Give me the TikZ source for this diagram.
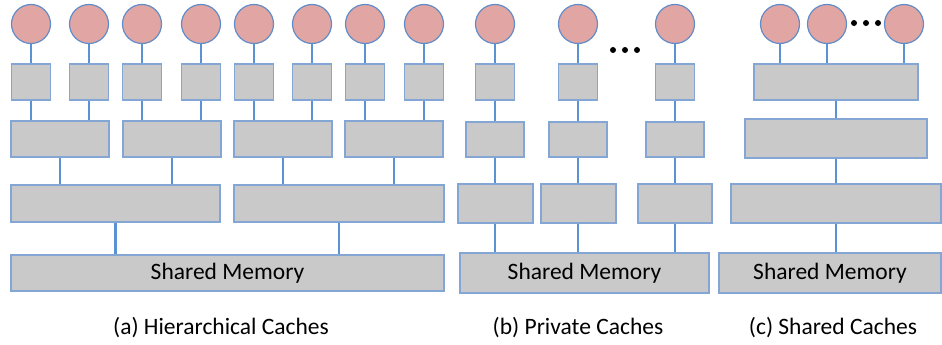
\documentclass[tikz,border=0pt]{standalone}
\usepackage{fontspec}
\setmainfont{Carlito}
\definecolor{corepink}{RGB}{225, 165, 164}
\definecolor{coreblue}{RGB}{98, 140, 200}
\definecolor{cachegray}{RGB}{201, 201, 201}
\definecolor{cacheedge}{RGB}{132, 166, 212}
\definecolor{linkblue}{RGB}{91, 146, 212}
\usetikzlibrary{positioning, calc}
\tikzset{
	core/.style={circle, draw=coreblue, fill=corepink, line width=1.2pt, minimum size=39pt, inner sep=0pt},
	cache/.style={rectangle, draw=cacheedge, fill=cachegray, line width=1.3pt, inner sep=0pt, font=\fontsize{23.5}{28}\selectfont},
	caption/.style={font=\fontsize{23.5}{28}\selectfont, inner sep=0pt},
	link/.style={draw=linkblue, line width=2.5pt},
}
\begin{document}
\begin{tikzpicture}[x=1pt, y=-1pt]
		\useasboundingbox (0,0) rectangle (942,345);
		% (a) hierarchical
		\node[core] (ca1) at (31,24) {};
		\node[core] (ca2) at (89,24) {};
		\node[core] (ca3) at (142,24) {};
		\node[core] (ca4) at (201,24) {};
		\node[core] (ca5) at (254,24) {};
		\node[core] (ca6) at (312,24) {};
		\node[core] (ca7) at (365,24) {};
		\node[core] (ca8) at (424,24) {};
		\node[cache, minimum width=39pt, minimum height=36pt] (l1a1) at (31,82) {};
		\node[cache, minimum width=39pt, minimum height=36pt] (l1a2) at (89,82) {};
		\node[cache, minimum width=39pt, minimum height=36pt] (l1a3) at (142,82) {};
		\node[cache, minimum width=39pt, minimum height=36pt] (l1a4) at (201,82) {};
		\node[cache, minimum width=39pt, minimum height=36pt] (l1a5) at (254,82) {};
		\node[cache, minimum width=39pt, minimum height=36pt] (l1a6) at (312,82) {};
		\node[cache, minimum width=39pt, minimum height=36pt] (l1a7) at (365,82) {};
		\node[cache, minimum width=39pt, minimum height=36pt] (l1a8) at (424,82) {};
		\node[cache, minimum width=98pt, minimum height=36pt] (l2a1) at (60,139) {};
		\node[cache, minimum width=98pt, minimum height=36pt] (l2a2) at (172,139) {};
		\node[cache, minimum width=98pt, minimum height=36pt] (l2a3) at (283,139) {};
		\node[cache, minimum width=98pt, minimum height=36pt] (l2a4) at (394,139) {};
		\node[cache, minimum width=209pt, minimum height=37pt] (l3a1) at (115.5,203.5) {};
		\node[cache, minimum width=210pt, minimum height=37pt] (l3a2) at (339,203.5) {};
		\node[cache, minimum width=433pt, minimum height=36pt] (mema) at (227.5,273) {Shared Memory};
		\node[caption] (capa) at (221,328) {(a) Hierarchical Caches};
		\draw[link] (ca1) -- (l1a1); \draw[link] (ca2) -- (l1a2);
		\draw[link] (ca3) -- (l1a3); \draw[link] (ca4) -- (l1a4);
		\draw[link] (ca5) -- (l1a5); \draw[link] (ca6) -- (l1a6);
		\draw[link] (ca7) -- (l1a7); \draw[link] (ca8) -- (l1a8);
		\draw[link] (l1a1.south) -- (l1a1.south |- l2a1.north);
		\draw[link] (l1a2.south) -- (l1a2.south |- l2a1.north);
		\draw[link] (l1a3.south) -- (l1a3.south |- l2a2.north);
		\draw[link] (l1a4.south) -- (l1a4.south |- l2a2.north);
		\draw[link] (l1a5.south) -- (l1a5.south |- l2a3.north);
		\draw[link] (l1a6.south) -- (l1a6.south |- l2a3.north);
		\draw[link] (l1a7.south) -- (l1a7.south |- l2a4.north);
		\draw[link] (l1a8.south) -- (l1a8.south |- l2a4.north);
		\draw[link] (l2a1.south) -- (l2a1.south |- l3a1.north);
		\draw[link] (l2a2.south) -- (l2a2.south |- l3a1.north);
		\draw[link] (l2a3.south) -- (l2a3.south |- l3a2.north);
		\draw[link] (l2a4.south) -- (l2a4.south |- l3a2.north);
		\draw[link] (l3a1.south) -- (l3a1.south |- mema.north);
		\draw[link] (l3a2.south) -- (l3a2.south |- mema.north);
		% (b) private
		\node[core] (cb1) at (495,24) {};
		\node[core] (cb2) at (578,24) {};
		\node[core] (cb3) at (675,24) {};
		\node[cache, minimum width=39pt, minimum height=36pt] (l1b1) at (495,82) {};
		\node[cache, minimum width=39pt, minimum height=36pt] (l1b2) at (578,82) {};
		\node[cache, minimum width=39pt, minimum height=36pt] (l1b3) at (675,82) {};
		\node[cache, minimum width=58pt, minimum height=35pt] (l2b1) at (495,139.5) {};
		\node[cache, minimum width=58pt, minimum height=35pt] (l2b2) at (578,139.5) {};
		\node[cache, minimum width=58pt, minimum height=35pt] (l2b3) at (675,139.5) {};
		\node[cache, minimum width=75pt, minimum height=39pt] (l3b1) at (495.5,203.5) {};
		\node[cache, minimum width=75pt, minimum height=39pt] (l3b2) at (578.5,203.5) {};
		\node[cache, minimum width=74pt, minimum height=39pt] (l3b3) at (675,203.5) {};
		\node[cache, minimum width=249pt, minimum height=40pt] (memb) at (584.5,273) {Shared Memory};
		\node[caption] (capb) at (578,328) {(b) Private Caches};
		\fill (613,50) circle (3); \fill (625,50) circle (3); \fill (637,50) circle (3);
		\draw[link] (cb1) -- (l1b1); \draw[link] (cb2) -- (l1b2); \draw[link] (cb3) -- (l1b3);
		\draw[link] (l1b1) -- (l2b1); \draw[link] (l1b2) -- (l2b2); \draw[link] (l1b3) -- (l2b3);
		\draw[link] (l2b1.south) -- (l2b1.south |- l3b1.north);
		\draw[link] (l2b2.south) -- (l2b2.south |- l3b2.north);
		\draw[link] (l2b3.south) -- (l2b3.south |- l3b3.north);
		\draw[link] (l2b1.south |- l3b1.south) -- (l2b1.south |- memb.north);
		\draw[link] (l2b2.south |- l3b2.south) -- (l2b2.south |- memb.north);
		\draw[link] (l2b3.south |- l3b3.south) -- (l2b3.south |- memb.north);
		% (c) shared
		\node[core] (cc1) at (780,24) {};
		\node[core] (cc2) at (827,24) {};
		\node[core] (cc3) at (904,24) {};
		\fill (854,23) circle (3); \fill (866,23) circle (3); \fill (878,23) circle (3);
		\node[cache, minimum width=164pt, minimum height=36pt] (l1c) at (836,82) {};
		\node[cache, minimum width=182pt, minimum height=39pt] (l2c) at (836,138.5) {};
		\node[cache, minimum width=210pt, minimum height=39pt] (l3c) at (836,203.5) {};
		\node[cache, minimum width=222pt, minimum height=40pt] (memc) at (830,273) {Shared Memory};
		\node[caption] (capc) at (833,328) {(c) Shared Caches};
		\draw[link] (cc1.south) -- (cc1.south |- l1c.north);
		\draw[link] (cc2.south) -- (cc2.south |- l1c.north);
		\draw[link] (cc3.south) -- (cc3.south |- l1c.north);
		\draw[link] (l1c) -- (l2c);
		\draw[link] (l2c) -- (l3c);
		\draw[link] (l3c.south) -- (l3c.south |- memc.north);
	\end{tikzpicture}
\end{document}
